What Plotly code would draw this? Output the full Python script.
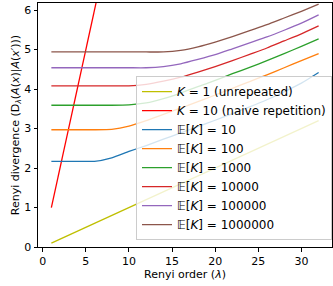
import plotly.graph_objects as go

# Renyi orders (shared grid)
lam = [1, 2, 4, 6, 8, 10, 12, 14, 16, 18, 20, 22, 24, 26, 28, 30, 32]

# single run and naive repetition (straight lines, endpoints)
lam_lin = [1, 32]
k1 = [0.10, 3.20]
k10 = [1.0, 32.0]

ek10 = [2.17, 2.17, 2.17, 2.17, 2.26, 2.42, 2.57, 2.73, 2.89, 3.05, 3.21, 3.38, 3.55, 3.73, 3.93, 4.15, 4.42]
ek100 = [2.97, 2.97, 2.97, 2.97, 2.98, 3.06, 3.20, 3.36, 3.52, 3.68, 3.85, 4.02, 4.19, 4.36, 4.54, 4.72, 4.90]
ek1000 = [3.59, 3.59, 3.59, 3.59, 3.59, 3.60, 3.65, 3.76, 3.90, 4.06, 4.22, 4.39, 4.55, 4.72, 4.90, 5.08, 5.27]
ek10000 = [4.08, 4.08, 4.08, 4.08, 4.08, 4.08, 4.12, 4.20, 4.30, 4.43, 4.57, 4.72, 4.88, 5.04, 5.22, 5.40, 5.60]
ek100000 = [4.54, 4.54, 4.54, 4.54, 4.54, 4.54, 4.54, 4.57, 4.64, 4.75, 4.87, 5.02, 5.17, 5.32, 5.49, 5.67, 5.88]
ek1000000 = [4.94, 4.94, 4.94, 4.94, 4.94, 4.94, 4.94, 4.94, 4.98, 5.07, 5.19, 5.33, 5.48, 5.63, 5.80, 5.97, 6.15]

names = ["<i>K</i> = 1 (unrepeated)", "<i>K</i> = 10 (naive repetition)",
         "𝔼[<i>K</i>] = 10", "𝔼[<i>K</i>] = 100", "𝔼[<i>K</i>] = 1000",
         "𝔼[<i>K</i>] = 10000", "𝔼[<i>K</i>] = 100000", "𝔼[<i>K</i>] = 1000000"]
colors = ["#bfbf00", "#ff0000", "#1f77b4", "#ff7f0e", "#2ca02c", "#d62728", "#9467bd", "#8c564b"]

fig = go.Figure()
fig.add_trace(go.Scatter(x=lam_lin, y=k1, mode="lines", name=names[0], line=dict(color=colors[0], width=1.3)))
fig.add_trace(go.Scatter(x=lam_lin, y=k10, mode="lines", name=names[1], line=dict(color=colors[1], width=1.3)))
for i, ys in enumerate([ek10, ek100, ek1000, ek10000, ek100000, ek1000000]):
    fig.add_trace(go.Scatter(x=lam, y=ys, mode="lines", name=names[i + 2],
                             line=dict(color=colors[i + 2], width=1.3, shape="spline", smoothing=0.5)))

axis_common = dict(showline=True, linecolor="black", linewidth=1, mirror=True,
                   ticks="outside", ticklen=3.5, tickwidth=1, tickcolor="black",
                   showgrid=False, zeroline=False, automargin=False,
                   tickfont=dict(family="DejaVu Sans", size=11, color="black"))

fig.update_layout(
    width=333, height=286,
    margin=dict(l=38, r=1, t=3, b=39),
    plot_bgcolor="white", paper_bgcolor="white",
    font=dict(family="DejaVu Sans", size=11, color="black"),
    xaxis=dict(range=[-0.55, 33.55], tickvals=[0, 5, 10, 15, 20, 25, 30],
               title=dict(text="Renyi order (<i>λ</i>)", standoff=2, font=dict(size=11)), **axis_common),
    yaxis=dict(range=[0, 6.18], tickvals=[0, 1, 2, 3, 4, 5, 6],
               title=dict(text="Renyi divergence (D<sub><i>λ</i></sub>(<i>A</i>(<i>x</i>)|<i>A</i>(<i>x</i>′)))",
                          standoff=2, font=dict(size=11)), **axis_common),
    legend=dict(x=1.0, y=0.028, xanchor="right", yanchor="bottom",
                bgcolor="rgba(255,255,255,0.8)", bordercolor="#cccccc", borderwidth=1,
                font=dict(size=12), tracegroupgap=0, itemwidth=30),
    showlegend=True,
)

fig.write_html("out.html", config={"displayModeBar": False},
               post_script="document.body.style.margin='0';document.body.style.overflow='hidden';")
